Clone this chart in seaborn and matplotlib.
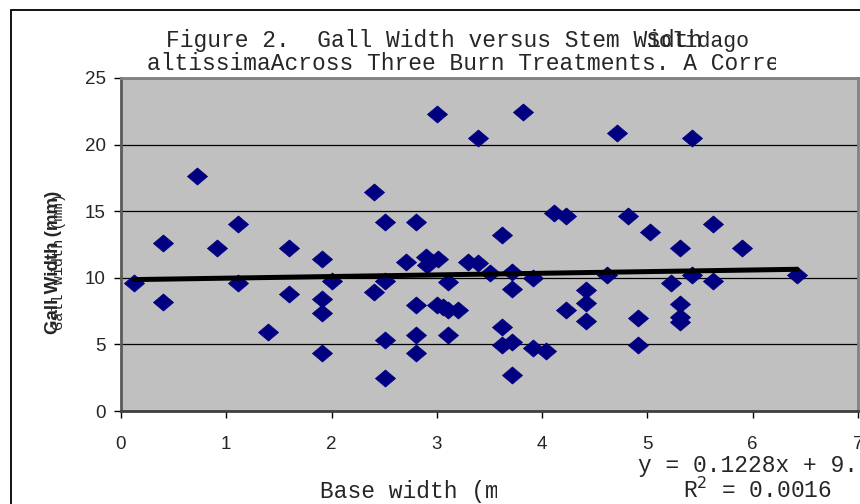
import matplotlib
matplotlib.use("Agg")
import matplotlib.pyplot as plt
import numpy as np
import pandas as pd
import seaborn as sns
from matplotlib.markers import MarkerStyle
from matplotlib.patches import Rectangle
from matplotlib.transforms import Bbox, TransformedBbox

# values
base_width = [
    0.12, 0.40, 0.40, 0.72, 0.91, 1.11, 1.11, 1.40, 1.60, 1.60,
    1.91, 1.91, 1.91, 1.91, 2.00, 2.40, 2.40, 2.51, 2.51, 2.51,
    2.51, 2.71, 2.80, 2.80, 2.80, 2.80, 2.90, 2.91, 3.01, 3.00,
    3.00, 3.11, 3.11, 3.20, 3.06, 3.11, 3.30, 3.39, 3.39, 3.50,
    3.82, 4.71, 5.42, 4.11, 4.23, 4.82, 5.02, 5.62, 3.62, 5.31,
    5.90, 3.71, 3.91, 3.71, 4.62, 5.42, 5.22, 5.62, 6.42, 4.42,
    4.42, 4.23, 4.42, 4.91, 5.31, 5.31, 5.31, 3.62, 3.62, 3.71,
    3.91, 4.04, 4.91, 3.71,
]
gall_width = [
    9.59, 12.59, 8.16, 17.64, 12.21, 14.04, 9.59, 5.95, 12.21, 8.76,
    11.39, 8.39, 7.33, 4.33, 9.76, 16.46, 8.96, 14.21, 9.76, 5.33,
    2.50, 11.21, 14.21, 7.96, 5.71, 4.33, 11.58, 10.96, 11.39, 22.27,
    7.96, 9.71, 7.58, 7.58, 7.83, 5.71, 11.21, 20.47, 11.11, 10.38,
    22.47, 20.89, 20.47, 14.84, 14.64, 14.64, 13.42, 14.04, 13.21, 12.21,
    12.21, 10.46, 9.96, 9.14, 10.21, 10.21, 9.59, 9.76, 10.21, 9.08,
    8.13, 7.58, 6.78, 6.96, 8.03, 7.03, 6.70, 6.33, 4.95, 5.20,
    4.71, 4.53, 4.95, 2.70,
]
slope = 0.1228
intercept = 9.85
x_ticks = [0, 1, 2, 3, 4, 5, 6, 7]
y_ticks = [0, 5, 10, 15, 20, 25]

title_1 = "Figure 2.  Gall Width versus Stem Width"
title_1b = "Solidago"
title_2 = "altissimaAcross Three Burn Treatments. A Corre"
x_label = "Base width (mm)"
eq_text = "y = 0.1228x + 9."
r2_text = "R$^2$ = 0.0016"

df = pd.DataFrame({"base": base_width, "gall": gall_width})
trend = pd.DataFrame({"base": [df["base"].min(), df["base"].max()]})
trend["gall"] = slope * trend["base"] + intercept

sns.set_style("white")
plt.rcParams["font.family"] = ["Liberation Sans", "DejaVu Sans"]

W, H = 860, 504
fig = plt.figure(figsize=(8.6, 5.04), dpi=100)
ax = fig.add_axes([121 / W, 1 - 411 / H, (858 - 121) / W, (411 - 78) / H])
ax.set_facecolor("#C0C0C0")

diamond = MarkerStyle([(-1, 0), (0, 0.85), (1, 0), (0, -0.85), (-1, 0)])
sns.scatterplot(data=df, x="base", y="gall", ax=ax, marker=diamond,
                s=210, color="#000080", edgecolor="#000080", linewidth=0.5,
                zorder=3, legend=False)
sns.lineplot(data=trend, x="base", y="gall", ax=ax, color="black",
             linewidth=3.6, zorder=4)

ax.set_xlim(0, 7)
ax.set_ylim(0, 25)
ax.set_xticks(x_ticks)
ax.set_yticks(y_ticks)
ax.set_xlabel("")
ax.set_ylabel("")
ax.yaxis.grid(True, color="black", linewidth=0.9)
ax.set_axisbelow(True)
for s in ax.spines.values():
    s.set_color("#808080")
    s.set_linewidth(2)
ax.spines["left"].set_color("#5a5a5a")
ax.spines["bottom"].set_color("#404040")
ax.tick_params(axis="both", which="major", direction="out", length=5,
               width=1, color="black", labelsize=13.5, left=True, bottom=True)
ax.tick_params(axis="y", pad=6)
ax.tick_params(axis="x", pad=13)

# outer chart border
fig.patches.append(Rectangle((11 / W, -0.1), 1.2, 1 - 10 / H + 0.1,
                             transform=fig.transFigure, fill=False,
                             edgecolor="black", linewidth=1.3))

mono = "Liberation Mono"
fig.text(166 / W, 1 - 47 / H, title_1, family=mono, fontsize=16.5,
         va="baseline", ha="left")
fig.text(646 / W, 1 - 47 / H, title_1b, family=mono, fontsize=15.5,
         va="baseline", ha="left")
t2 = fig.text(147 / W, 1 - 70 / H, title_2, family=mono, fontsize=16.5,
              va="baseline", ha="left")
t2.set_clip_box(TransformedBbox(Bbox.from_extents(0, 0, 776 / W, 1),
                                fig.transFigure))

xl = fig.text(320 / W, 1 - 498 / H, x_label, family=mono, fontsize=16.5,
              va="baseline", ha="left")
xl.set_clip_box(TransformedBbox(Bbox.from_extents(0, 0, 497 / W, 1),
                                fig.transFigure))

fig.text(638 / W, 1 - 472 / H, eq_text, family=mono, fontsize=16.5,
         va="baseline", ha="left")
fig.text(683 / W, 1 - 498 / H, r2_text, family=mono, fontsize=16.5,
         va="baseline", ha="left")

# y label: two overlapping copies as in the original
fig.text(53 / W, 1 - 262 / H, "Gall Width (mm)", fontsize=13.5,
         fontweight="bold", rotation=90, ha="center", va="center")
fig.text(59 / W, 1 - 262 / H, "Gall width (mm)", family=mono, fontsize=11,
         rotation=90, ha="center", va="center")

fig.savefig("out.png", dpi=100)
